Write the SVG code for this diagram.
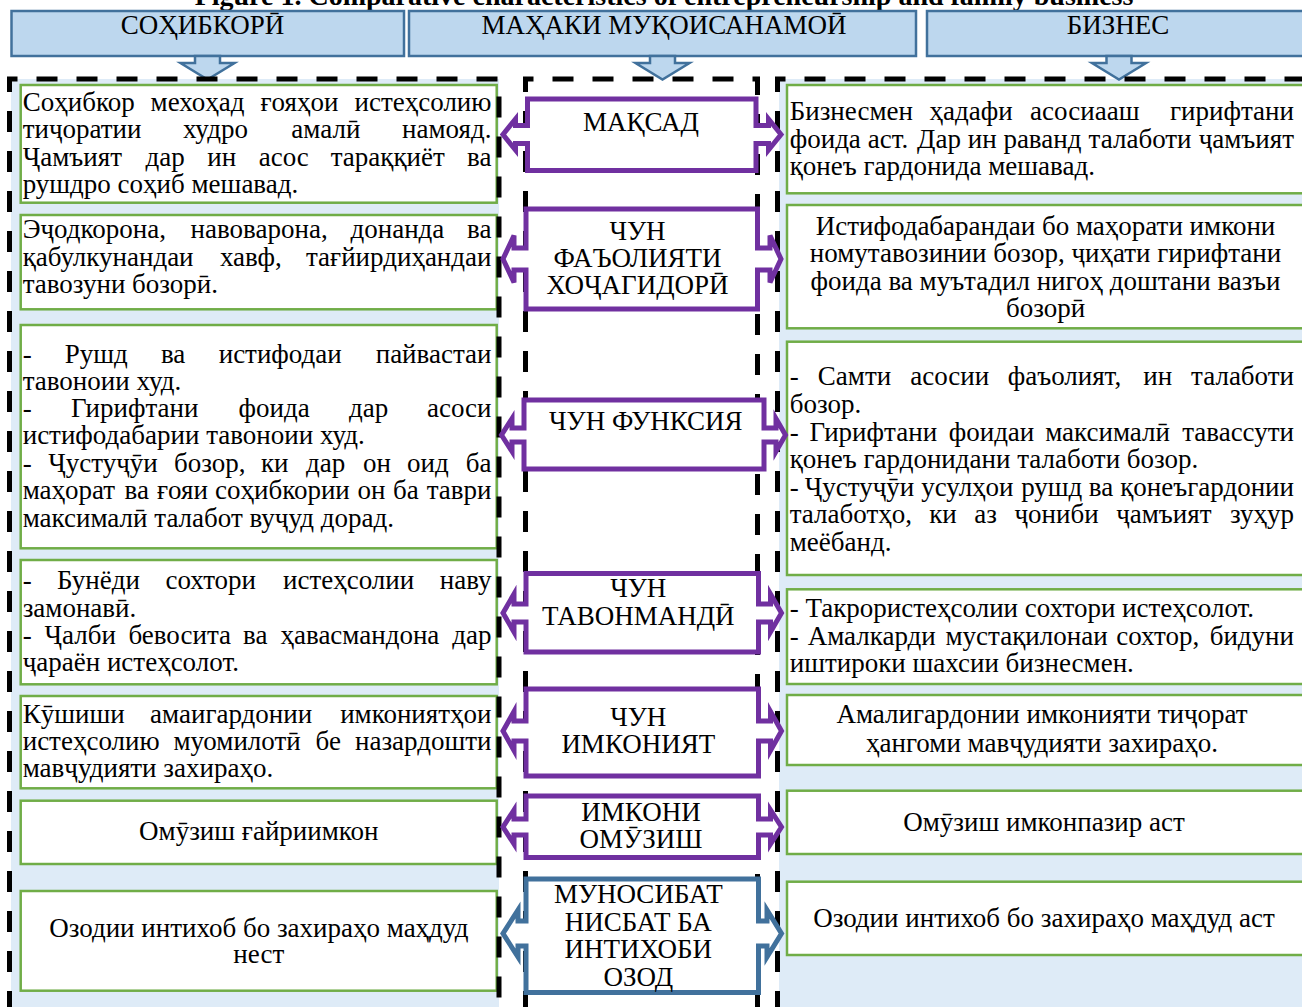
<svg xmlns="http://www.w3.org/2000/svg" width="1302" height="1007" viewBox="0 0 1302 1007">
<style>
.t{font-family:"Liberation Serif","DejaVu Serif","Times New Roman",serif;font-size:27px;fill:#000}
.m{text-anchor:middle}
.e{text-anchor:end}
.hd{font-size:27px}
.ti{font-weight:bold;font-size:28px}
.gb{fill:#fff;stroke:#70AD47;stroke-width:2.5}
.hb{fill:#BDD7EE;stroke:#41719C;stroke-width:2.5}
.bg{fill:#DEEBF7}
.fr{fill:none;stroke:#000;stroke-width:5;stroke-dasharray:21 19}
.pa{fill:#fff;stroke:#7030A0;stroke-width:5;stroke-linejoin:miter}
.ba{fill:#fff;stroke:#41719C;stroke-width:5;stroke-linejoin:miter}
</style>
<rect width="1302" height="1007" fill="#fff"/>
<text class="t ti m" x="664" y="4.5">Figure 1. Comparative characteristics of entrepreneurship and family business</text>

<g id="backgrounds">
<rect class="bg" x="11" y="79" width="488" height="935"/>
<rect class="bg" x="779" y="79" width="530" height="935"/>
</g>

<g id="header-sohibkori">
<rect class="hb" x="11.5" y="11" width="392.5" height="45"/>
<text class="t hd m" x="202.5" y="33.5">СОҲИБКОРӢ</text>
</g>
<g id="header-mahak">
<rect class="hb" x="409" y="11" width="507" height="45"/>
<text class="t hd m" x="664" y="33.5">МАҲАКИ МУҚОИСАНАМОӢ</text>
</g>
<g id="header-biznes">
<rect class="hb" x="927" y="11" width="400" height="45"/>
<text class="t hd m" x="1118" y="33.5">БИЗНЕС</text>
</g>

<g id="connectors">
<path class="hb" d="M195,56 V63 H180.5 L207.5,79.5 L234.5,63 H220 V56 Z"/>
<path class="hb" d="M650,56 V63 H635.5 L662.5,79.5 L689.5,63 H675 V56 Z"/>
<path class="hb" d="M1106.5,56 V63 H1092 L1119,79.5 L1146,63 H1131.5 V56 Z"/>
</g>

<!-- left column -->
<g id="left-1">
<rect class="gb" x="20.7" y="85" width="476" height="117.7"/>
<text class="t" y="110.5"><tspan x="22.7">Соҳибкор</tspan><tspan x="150.6">мехоҳад</tspan><tspan x="260.5">ғояҳои</tspan></text>
<text class="t e" x="491.5" y="110.5">истеҳсолию</text>
<text class="t" y="138"><tspan x="22.7">тиҷоратии</tspan><tspan x="182.9">худро</tspan><tspan x="291.3">амалӣ</tspan></text>
<text class="t e" x="491.5" y="138">намояд.</text>
<text class="t" y="165.5"><tspan x="22.7">Ҷамъият</tspan><tspan x="145.6">дар</tspan><tspan x="207.3">ин</tspan><tspan x="258.7">асос</tspan><tspan x="330.7">тараққиёт</tspan></text>
<text class="t e" x="491.5" y="165.5">ва</text>
<text class="t" x="22.7" y="193">рушдро соҳиб мешавад.</text>
</g>

<g id="left-2">
<rect class="gb" x="20.7" y="215" width="476" height="94.3"/>
<text class="t" y="238.3"><tspan x="22.7">Эҷодкорона,</tspan><tspan x="190.6">навоварона,</tspan><tspan x="350.5">донанда</tspan></text>
<text class="t e" x="491.5" y="238.3">ва</text>
<text class="t" y="265.7"><tspan x="22.7">қабулкунандаи</tspan><tspan x="219.9">хавф,</tspan></text>
<text class="t e" x="491.5" y="265.7">тағйирдиҳандаи</text>
<text class="t" x="22.7" y="292.7">тавозуни бозорӣ.</text>
</g>

<g id="left-3">
<rect class="gb" x="20.7" y="325" width="476" height="223.3"/>
<text class="t" y="362.7"><tspan x="22.7">-</tspan><tspan x="64.8">Рушд</tspan><tspan x="160.9">ва</tspan><tspan x="218.7">истифодаи</tspan></text>
<text class="t e" x="491.5" y="362.7">пайвастаи</text>
<text class="t" x="22.7" y="389.8">тавоноии худ.</text>
<text class="t" y="417"><tspan x="22.7">-</tspan><tspan x="71">Гирифтани</tspan><tspan x="238.5">фоида</tspan><tspan x="349">дар</tspan></text>
<text class="t e" x="491.5" y="417">асоси</text>
<text class="t" x="22.7" y="444.2">истифодабарии тавоноии худ.</text>
<text class="t" y="471.7"><tspan x="22.7">-</tspan><tspan x="48.2">Ҷустуҷӯи</tspan><tspan x="174">бозор,</tspan><tspan x="261">ки</tspan><tspan x="306">дар</tspan><tspan x="363">он</tspan><tspan x="407">оид</tspan></text>
<text class="t e" x="491.5" y="471.7">ба</text>
<text class="t" y="499.3"><tspan x="22.7">маҳорат</tspan><tspan x="124.5">ва</tspan><tspan x="157">ғояи</tspan><tspan x="215">соҳибкории</tspan><tspan x="357.5">он</tspan><tspan x="393">ба</tspan></text>
<text class="t e" x="491.5" y="499.3">таври</text>
<text class="t" x="22.7" y="526.7">максималӣ талабот вуҷуд дорад.</text>
</g>

<g id="left-4">
<rect class="gb" x="20.7" y="560" width="476" height="124.3"/>
<text class="t" y="589.3"><tspan x="22.7">-</tspan><tspan x="57">Бунёди</tspan><tspan x="165.5">сохтори</tspan><tspan x="283">истеҳсолии</tspan></text>
<text class="t e" x="491.5" y="589.3">наву</text>
<text class="t" x="22.7" y="616.7">замонавӣ.</text>
<text class="t" y="644"><tspan x="22.7">-</tspan><tspan x="44.5">Ҷалби</tspan><tspan x="128.4">бевосита</tspan><tspan x="243.1">ва</tspan><tspan x="280.5">ҳавасмандона</tspan></text>
<text class="t e" x="491.5" y="644">дар</text>
<text class="t" x="22.7" y="671">ҷараён истеҳсолот.</text>
</g>

<g id="left-5">
<rect class="gb" x="20.7" y="696" width="476" height="92.3"/>
<text class="t" y="722.7"><tspan x="22.7">Кӯшиши</tspan><tspan x="150.1">амаигардонии</tspan></text>
<text class="t e" x="491.5" y="722.7">имкониятҳои</text>
<text class="t" y="750"><tspan x="22.7">истеҳсолию</tspan><tspan x="173.4">муомилотӣ</tspan><tspan x="315.6">бе</tspan></text>
<text class="t e" x="491.5" y="750">назардошти</text>
<text class="t" x="22.7" y="777.3">мавҷудияти захираҳо.</text>
</g>

<g id="left-6">
<rect class="gb" x="20.7" y="800.7" width="476" height="63.3"/>
<text class="t m" x="258.8" y="840">Омӯзиш ғайриимкон</text>
</g>

<g id="left-7">
<rect class="gb" x="20.7" y="891" width="476" height="99.7"/>
<text class="t m" x="258.8" y="936.7">Озодии интихоб бо захираҳо маҳдуд</text>
<text class="t m" x="258.8" y="963.3">нест</text>
</g>

<!-- right column -->
<g id="right-1">
<rect class="gb" x="787" y="85" width="530" height="108.3"/>
<text class="t" y="120"><tspan x="789.7">Бизнесмен</tspan><tspan x="929.6">ҳадафи</tspan><tspan x="1030.1">асосиааш</tspan></text>
<text class="t e" x="1294" y="120">гирифтани</text>
<text class="t" y="147.5"><tspan x="789.7">фоида</tspan><tspan x="867.7">аст.</tspan><tspan x="917">Дар</tspan><tspan x="967.7">ин</tspan><tspan x="1003.4">раванд</tspan><tspan x="1088.6">талаботи</tspan></text>
<text class="t e" x="1294" y="147.5">ҷамъият</text>
<text class="t" x="789.7" y="175">қонеъ гардонида мешавад.</text>
</g>

<g id="right-2">
<rect class="gb" x="787" y="205" width="530" height="123.3"/>
<text class="t m" x="1045.5" y="234.5">Истифодабарандаи бо маҳорати имкони</text>
<text class="t m" x="1045.5" y="262">номутавозинии бозор, ҷиҳати гирифтани</text>
<text class="t m" x="1045.5" y="289.5">фоида ва муътадил нигоҳ доштани вазъи</text>
<text class="t m" x="1045.5" y="317">бозорӣ</text>
</g>

<g id="right-3">
<rect class="gb" x="787" y="341.7" width="530" height="233.3"/>
<text class="t" y="385"><tspan x="789.7">-</tspan><tspan x="817.8">Самти</tspan><tspan x="910.2">асосии</tspan><tspan x="1007.7">фаъолият,</tspan><tspan x="1143.3">ин</tspan></text>
<text class="t e" x="1294" y="385">талаботи</text>
<text class="t" x="789.7" y="413">бозор.</text>
<text class="t" y="440.5"><tspan x="789.7">-</tspan><tspan x="809.6">Гирифтани</tspan><tspan x="948.7">фоидаи</tspan><tspan x="1045.2">максималӣ</tspan></text>
<text class="t e" x="1294" y="440.5">тавассути</text>
<text class="t" x="789.7" y="468">қонеъ гардонидани талаботи бозор.</text>
<text class="t" y="495.5"><tspan x="789.7">-</tspan><tspan x="804.8">Ҷустуҷӯи</tspan><tspan x="921.2">усулҳои</tspan><tspan x="1021.2">рушд</tspan><tspan x="1088.8">ва</tspan></text>
<text class="t e" x="1294" y="495.5">қонеъгардонии</text>
<text class="t" y="523"><tspan x="789.7">талаботҳо,</tspan><tspan x="929.2">ки</tspan><tspan x="974.3">аз</tspan><tspan x="1014.5">ҷониби</tspan><tspan x="1116.2">ҷамъият</tspan></text>
<text class="t e" x="1294" y="523">зуҳур</text>
<text class="t" x="789.7" y="550.5">меёбанд.</text>
</g>

<g id="right-4">
<rect class="gb" x="787" y="589.3" width="530" height="94.7"/>
<text class="t" x="789.7" y="617.3">- Такрористеҳсолии сохтори истеҳсолот.</text>
<text class="t" y="645"><tspan x="789.7">-</tspan><tspan x="807.7">Амалкарди</tspan><tspan x="945.5">мустақилонаи</tspan><tspan x="1116.3">сохтор,</tspan></text>
<text class="t e" x="1294" y="645">бидуни</text>
<text class="t" x="789.7" y="672">иштироки шахсии бизнесмен.</text>
</g>

<g id="right-5">
<rect class="gb" x="787" y="695" width="530" height="70"/>
<text class="t m" x="1042" y="723.3">Амалигардонии имконияти тиҷорат</text>
<text class="t m" x="1042" y="751.7">ҳангоми мавҷудияти захираҳо.</text>
</g>

<g id="right-6">
<rect class="gb" x="787" y="790.7" width="530" height="63.3"/>
<text class="t m" x="1044" y="830.7">Омӯзиш имконпазир аст</text>
</g>

<g id="right-7">
<rect class="gb" x="787" y="881.7" width="530" height="73.3"/>
<text class="t m" x="1044" y="926.7">Озодии интихоб бо захираҳо маҳдуд аст</text>
</g>

<g id="frames">
<path class="fr" d="M9.5,1012 V79 H499 V1012"/>
<path class="fr" d="M525.5,1012 V79 H757.5 V1012"/>
<path class="fr" d="M777.5,1012 V79 H1310"/>
</g>

<!-- middle column -->
<g id="mid-maqsad">
<path class="pa" d="M527.5,99 H756 V125.5 H768.5 V119 L781,134.5 L768.5,150 V143.5 H756 V170.5 H527.5 V143.5 H515.5 V150 L503,134.5 L515.5,119 V125.5 H527.5 Z"/>
<text class="t m" x="641" y="131">МАҚСАД</text>
</g>

<g id="mid-faoliyat">
<path class="pa" d="M526,209 H757.5 V248 H770 V235.5 L781,259 L770,282.5 V270 H757.5 V309 H526 V270 H514 V282.5 L503,259 L514,235.5 V248 H526 Z"/>
<text class="t m" x="637.5" y="240">ЧУН</text>
<text class="t m" x="637.5" y="267">ФАЪОЛИЯТИ</text>
<text class="t m" x="637.5" y="294">ХОҶАГИДОРӢ</text>
</g>

<g id="mid-funksiya">
<path class="pa" d="M524,400 H764 V428 H776 V418.5 L785.5,435 L776,451.5 V442 H764 V469 H524 V442 H512 V451.5 L501.5,435 L512,418.5 V428 H524 Z"/>
<text class="t m" x="645.8" y="430">ЧУН ФУНКСИЯ</text>
</g>

<g id="mid-tavonmandi">
<path class="pa" d="M526,573.5 H758.5 V604 H770.5 V594 L781.5,613 L770.5,632 V622 H758.5 V652 H526 V622 H514 V632 L503,613 L514,594 V604 H526 Z"/>
<text class="t m" x="638.3" y="597.3">ЧУН</text>
<text class="t m" x="638.3" y="625">ТАВОНМАНДӢ</text>
</g>

<g id="mid-imkoniyat">
<path class="pa" d="M526,689 H758.5 V721 H770.5 V711.5 L781.5,731 L770.5,750.5 V741 H758.5 V776 H526 V741 H514 V750.5 L503,731 L514,711.5 V721 H526 Z"/>
<text class="t m" x="638.3" y="725.7">ЧУН</text>
<text class="t m" x="638.3" y="752.7">ИМКОНИЯТ</text>
</g>

<g id="mid-omuzish">
<path class="pa" d="M526,796 H758.5 V819 H770.5 V810 L781.5,827 L770.5,844 V835 H758.5 V857.5 H526 V835 H514 V844 L503,827 L514,810 V819 H526 Z"/>
<text class="t m" x="641" y="821">ИМКОНИ</text>
<text class="t m" x="641" y="848.3">ОМӮЗИШ</text>
</g>

<g id="mid-munosibat">
<path class="ba" d="M526,879 H758.5 V921 H767 V910 L781.5,933.5 L767,957 V946 H758.5 V992.5 H526 V946 H518 V957 L503,933.5 L518,910 V921 H526 Z"/>
<text class="t m" x="638.3" y="902.7">МУНОСИБАТ</text>
<text class="t m" x="638.3" y="930.7">НИСБАТ БА</text>
<text class="t m" x="638.3" y="958.3">ИНТИХОБИ</text>
<text class="t m" x="638.3" y="986">ОЗОД</text>
</g>
</svg>
